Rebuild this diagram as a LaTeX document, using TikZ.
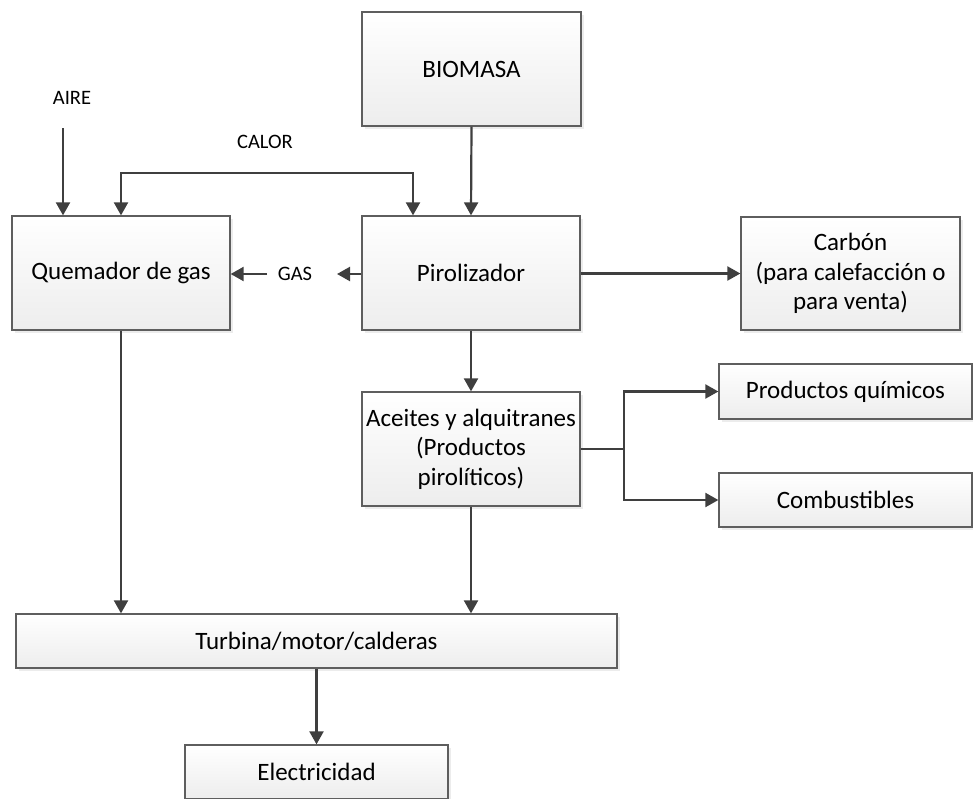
\documentclass[tikz,border=0pt]{standalone}
\usepackage{fontspec}
\setmainfont{Carlito}
\usetikzlibrary{arrows.meta,shadows}
\definecolor{edge}{HTML}{5E5E5E}
\definecolor{arr}{HTML}{3F3F3F}
\definecolor{shade}{HTML}{EDEDED}
\begin{document}
\begin{tikzpicture}[x=1pt,y=-1pt,
  blk/.style={draw=edge, line width=1.3pt, top color=white, bottom color=shade,
    align=center, inner sep=0pt, font=\fontsize{25}{29.5}\selectfont,
    drop shadow={shadow xshift=2.5pt, shadow yshift=-2.5pt, fill=black!12, opacity=0.6}},
  lbl/.style={font=\fontsize{20.5}{24}\selectfont, inner sep=0pt},
  flow/.style={draw=arr, line width=2.2pt, -{Triangle[length=13pt,width=14pt]}},
  wire/.style={draw=arr, line width=2.2pt}]
\useasboundingbox (0,0) rectangle (973,798);
\begin{scope}
\clip (0,0) rectangle (973,798);
\node[blk, minimum width=219pt, minimum height=114pt] (bio) at (471.5,69) {BIOMASA};
\node[blk, minimum width=218pt, minimum height=114pt] (quem) at (121,273) {Quemador de gas};
\node[blk, minimum width=218pt, minimum height=114pt] (piro) at (471,273) {Pirolizador};
\node[blk, minimum width=219pt, minimum height=113pt] (carb) at (850.5,273.5) {Carbón\\(para calefacción o\\para venta)};
\node[blk, minimum width=218pt, minimum height=114pt] (acei) at (471,449) {Aceites y alquitranes\\(Productos\\pirolíticos)};
\node[blk, minimum width=253pt, minimum height=55pt] (quim) at (845.5,391.5) {Productos químicos};
\node[blk, minimum width=253pt, minimum height=54pt] (comb) at (845.5,500) {Combustibles};
\node[blk, minimum width=601pt, minimum height=54pt] (turb) at (316.5,641) {Turbina/motor/calderas};
\node[blk, minimum width=263pt, minimum height=54pt] (elec) at (316.5,772) {Electricidad};
\end{scope}

\node[lbl] (aire) at (72,98) {AIRE};
\node[lbl] (calor) at (265,142) {CALOR};
\node[lbl] (gas) at (295,274) {GAS};
\coordinate (aireS) at (63,128);
\coordinate (calL) at (121,173);
\coordinate (calR) at (413,173);
\coordinate (gasR) at (337,274);
\coordinate (gasL) at (267,274);
\coordinate (br) at (624,449);

\draw[flow] (bio.south) -- (piro.north);
\draw[flow] (aireS) -- (aireS |- quem.north);
\draw[flow] (calR) -- (calL) -- (calL |- quem.north);
\draw[flow] (calL) -- (calR) -- (calR |- piro.north);
\draw[flow] (piro.west |- gasR) -- (gasR);
\draw[flow] (gasL) -- (quem.east |- gasL);
\draw[flow] (piro.east |- carb.west) -- (carb.west);
\draw[flow] (piro.south) -- (acei.north);
\draw[wire] (acei.east |- br) -- (br);
\draw[flow] (br) -- (br |- quim.west) -- (quim.west);
\draw[flow] (br) -- (br |- comb.west) -- (comb.west);
\draw[flow] (quem.south) -- (quem.south |- turb.north);
\draw[flow] (acei.south) -- (acei.south |- turb.north);
\draw[flow] (turb.south) -- (elec.north);
\end{tikzpicture}
\end{document}
